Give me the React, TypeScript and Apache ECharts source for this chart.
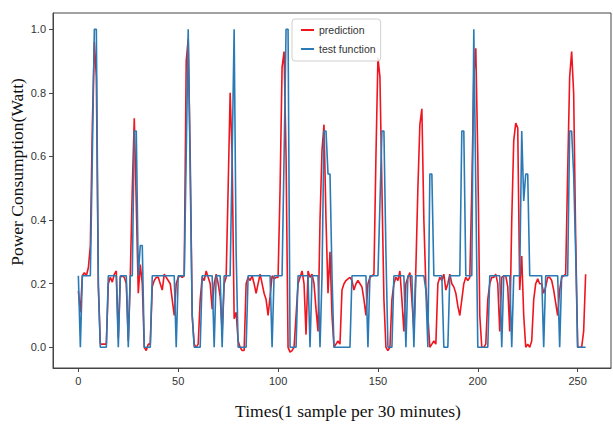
import React, { useEffect, useRef } from "react";
import * as echarts from "echarts";

// Test function (blue) values, one per 30-minute sample
const testFunction: number[] = [
  0.225, 0, 0.225, 0.225, 0.225, 0.225, 0.225, 0.6, 1.0, 1.0,
  0.19, 0, 0, 0, 0, 0.225, 0.225, 0.225, 0.225, 0.225,
  0, 0.225, 0.225, 0.225, 0.225, 0, 0.225, 0.225, 0.68, 0.68,
  0.225, 0.32, 0.32, 0, 0, 0, 0, 0.225, 0.225, 0.225,
  0.225, 0.225, 0.225, 0.225, 0.225, 0.225, 0.225, 0.225, 0.225, 0,
  0.225, 0.225, 0.225, 0.225, 0.6, 1.0, 0.55, 0.1, 0, 0,
  0, 0, 0.225, 0.225, 0.225, 0.225, 0.225, 0.225, 0, 0.225,
  0.225, 0.225, 0, 0.225, 0.225, 0.225, 0.225, 0.6, 1.0, 0.3,
  0, 0, 0, 0, 0, 0.225, 0.225, 0.225, 0.225, 0.225,
  0.225, 0.225, 0.225, 0.225, 0.225, 0.225, 0.225, 0, 0.225, 0.225,
  0.225, 0.225, 0.225, 0.6, 1.0, 1.0, 0, 0, 0, 0,
  0.225, 0.225, 0.225, 0.225, 0.225, 0.225, 0, 0.225, 0.225, 0.225,
  0.225, 0, 0.225, 0.68, 0.68, 0.545, 0.545, 0.225, 0, 0,
  0, 0, 0, 0, 0, 0, 0, 0.225, 0.225, 0.225,
  0.225, 0.225, 0.225, 0.225, 0.225, 0, 0.225, 0.225, 0.225, 0.225,
  0.225, 0.45, 0.68, 0.68, 0.3, 0, 0, 0, 0.225, 0.225,
  0.225, 0.225, 0.225, 0.225, 0, 0.225, 0.225, 0.225, 0, 0.225,
  0.225, 0.225, 0.225, 0.225, 0.18, 0, 0.545, 0.545, 0.225, 0.225,
  0.225, 0.225, 0.225, 0, 0, 0, 0.225, 0.225, 0.225, 0.225,
  0.225, 0.225, 0.68, 0.68, 0.225, 0.225, 0.225, 0.225, 1.0, 0.5,
  0, 0, 0, 0, 0, 0, 0.225, 0.225, 0.225, 0.225,
  0.225, 0.225, 0, 0.225, 0.225, 0.225, 0.225, 0, 0.225, 0.225,
  0.225, 0.225, 0.68, 0.46, 0.545, 0.545, 0.225, 0.225, 0.225, 0.225,
  0.225, 0.225, 0.225, 0, 0.225, 0.225, 0.225, 0.225, 0.225, 0.225,
  0.225, 0, 0.225, 0.225, 0.225, 0.225, 0.68, 0.68, 0.545, 0.3,
  0, 0, 0, 0, 0,
];

// Prediction (red) values
const prediction: number[] = [
  0.177, 0.11, 0.225, 0.235, 0.225, 0.25, 0.32, 0.7, 0.96, 0.85,
  0.2, 0.01, 0.01, 0.01, 0.01, 0.2, 0.22, 0.205, 0.23, 0.24,
  0.03, 0.22, 0.225, 0.22, 0.2, 0.02, 0.225, 0.5, 0.72, 0.45,
  0.17, 0.26, 0.2, 0, -0.01, 0.01, 0.01, 0.19, 0.21, 0.22,
  0.22, 0.2, 0.18, 0.23, 0.22, 0.21, 0.2, 0.15, 0.1, 0.2,
  0.22, 0.225, 0.22, 0.225, 0.9, 0.97, 0.6, 0.1, 0.01, 0,
  0.01, 0.15, 0.22, 0.21, 0.24, 0.22, 0.2, 0.12, 0.2, 0.23,
  0.2, 0.16, 0.05, 0.2, 0.22, 0.5, 0.8, 0.6, 0.09, 0.11,
  0.02, 0, -0.01, -0.01, 0.2, 0.22, 0.21, 0.225, 0.2, 0.17,
  0.2, 0.23, 0.2, 0.17, 0.15, 0.1, 0.16, 0.225, 0.215, 0.22,
  0.22, 0.5, 0.88, 0.93, 0.6, 0, -0.015, -0.01, 0, 0.1,
  0.2, 0.22, 0.24, 0.2, 0.04, 0.24, 0.22, 0.23, 0.2, 0.12,
  0.05, 0.4, 0.62, 0.7, 0.4, 0.17, 0.3, 0.1, 0, 0.01,
  0.02, 0.01, 0.18, 0.2, 0.21, 0.215, 0.22, 0.21, 0.18, 0.2,
  0.21, 0.2, 0.19, 0.15, 0.1, 0.2, 0.22, 0.225, 0.23, 0.6,
  0.91, 0.85, 0.5, 0.15, 0, -0.01, 0, 0.15, 0.2, 0.22,
  0.21, 0.24, 0.15, 0.05, 0.2, 0.22, 0.235, 0.15, 0.05, 0.25,
  0.5, 0.7, 0.75, 0.4, 0.19, 0.1, 0, 0.01, 0.02, 0.01,
  0.2, 0.22, 0.21, 0.23, 0.18, 0.2, 0.23, 0.2, 0.19, 0.17,
  0.13, 0.1, 0.15, 0.2, 0.22, 0.21, 0.22, 0.5, 0.85, 0.94,
  0.6, 0.1, 0, 0, 0.01, 0.15, 0.2, 0.22, 0.22, 0.23,
  0.2, 0.05, 0.22, 0.225, 0.225, 0.19, 0.05, 0.4, 0.65, 0.705,
  0.69, 0.18, 0.287, 0.1, 0, 0.01, 0, 0.02, 0.15, 0.2,
  0.215, 0.2, 0.2, 0.17, 0.19, 0.22, 0.22, 0.21, 0.18, 0.14,
  0.1, 0.18, 0.22, 0.225, 0.23, 0.55, 0.85, 0.93, 0.8, 0.35,
  0, 0, 0, 0.05, 0.23,
];

const xTicks: number[] = [0, 50, 100, 150, 200, 250];
const yTicks: number[] = [0, 0.2, 0.4, 0.6, 0.8, 1.0];
const seriesNames: string[] = ["prediction", "test function"];
const xTitle = "Times(1 sample per 30 minutes)";
const yTitle = "Power Consumption(Watt)";

const tickFont = "'Liberation Sans Narrow', 'Liberation Sans', Arial, sans-serif";
const titleFont = "'Liberation Serif', 'DejaVu Serif', serif";

export default function App() {
  const ref = useRef<HTMLDivElement>(null);

  useEffect(() => {
    if (!ref.current) return;
    const chart = echarts.init(ref.current, undefined, { renderer: "svg" });
    const frame = "#444";
    chart.setOption({
      animation: false,
      backgroundColor: "#ffffff",
      grid: {
        left: 53,
        top: 13,
        width: 558,
        height: 355,
        show: true,
        borderColor: frame,
        borderWidth: 1,
        backgroundColor: "transparent",
      },
      legend: {
        orient: "vertical",
        left: 292,
        top: 19,
        data: seriesNames,
        icon: "rect",
        itemWidth: 13,
        itemHeight: 2,
        itemGap: 7,
        padding: [5, 5, 6, 9],
        borderColor: "#d0d0d0",
        borderWidth: 1,
        borderRadius: 3,
        backgroundColor: "rgba(255,255,255,0.85)",
        textStyle: {
          fontFamily: tickFont,
          fontSize: 10.5,
          color: "#333",
          lineHeight: 12,
        },
      },
      xAxis: {
        type: "value",
        min: -12.7,
        max: 266.7,
        splitLine: { show: false },
        axisLine: { show: true, onZero: false, lineStyle: { color: frame, width: 1 } },
        axisTick: {
          show: true,
          customValues: xTicks,
          length: 4,
          lineStyle: { color: frame },
        },
        axisLabel: {
          customValues: xTicks,
          margin: 7,
          fontFamily: tickFont,
          fontSize: 11,
          color: "#333",
        },
      },
      yAxis: {
        type: "value",
        min: -0.065,
        max: 1.051,
        splitLine: { show: false },
        axisLine: { show: true, onZero: false, lineStyle: { color: frame, width: 1 } },
        axisTick: {
          show: true,
          customValues: yTicks,
          length: 4,
          lineStyle: { color: frame },
        },
        axisLabel: {
          customValues: yTicks,
          margin: 7,
          fontFamily: tickFont,
          fontSize: 11,
          color: "#333",
          formatter: (v: number) => v.toFixed(1),
        },
      },
      series: [
        {
          name: seriesNames[0],
          type: "line",
          data: prediction.map((v, i) => [i, v]),
          showSymbol: false,
          symbol: "none",
          lineStyle: { color: "#f0141e", width: 1.6 },
          itemStyle: { color: "#f0141e" },
        },
        {
          name: seriesNames[1],
          type: "line",
          data: testFunction.map((v, i) => [i, v]),
          showSymbol: false,
          symbol: "none",
          lineStyle: { color: "#2a7ab5", width: 1.6 },
          itemStyle: { color: "#2a7ab5" },
        },
      ],
      graphic: [
        {
          type: "text",
          x: 348,
          y: 411,
          style: {
            text: xTitle,
            font: `17.5px ${titleFont}`,
            fill: "#111",
            textAlign: "center",
            textVerticalAlign: "middle",
          },
        },
        {
          type: "text",
          x: 17,
          y: 172,
          rotation: Math.PI / 2,
          style: {
            text: yTitle,
            font: `17.5px ${titleFont}`,
            fill: "#111",
            textAlign: "center",
            textVerticalAlign: "middle",
          },
        },
      ],
    });
    return () => chart.dispose();
  }, []);

  return (
    <div
      ref={ref}
      style={{ position: "fixed", left: 0, top: 0, width: 613, height: 424, background: "#fff" }}
    />
  );
}
